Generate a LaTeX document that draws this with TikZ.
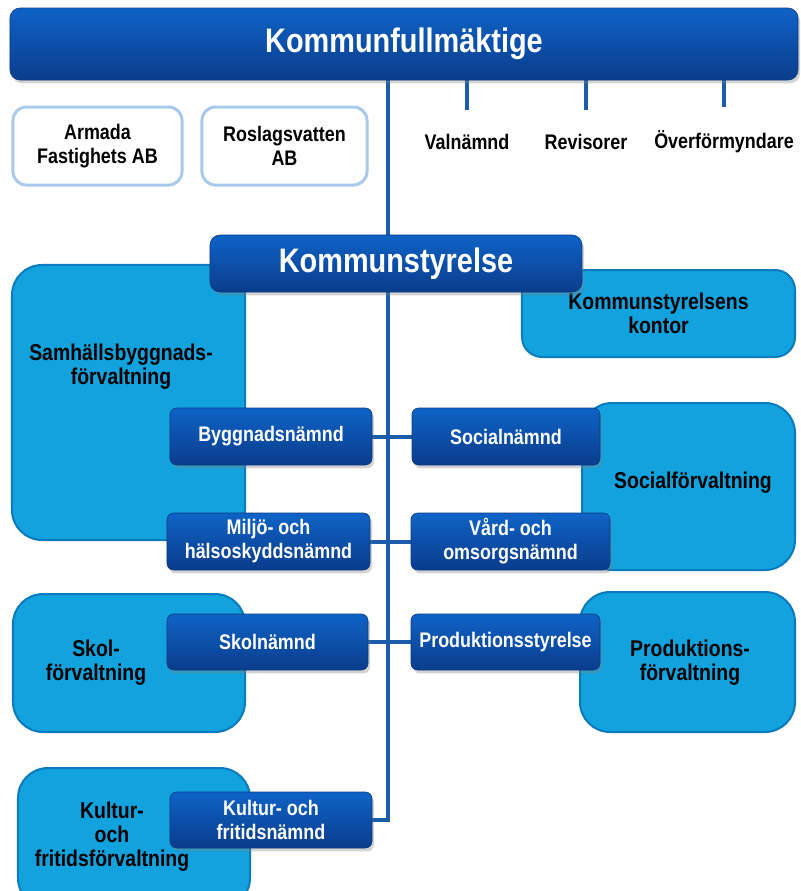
\documentclass[tikz,border=0pt]{standalone}
\usepackage{fontspec}
\setmainfont{Liberation Sans}[FakeStretch=0.85]
\usetikzlibrary{shadows,backgrounds}

\definecolor{ktop}{HTML}{0E63C6}
\definecolor{kbottom}{HTML}{0B3C8C}
\definecolor{kedge}{HTML}{0A3A80}
\definecolor{klight}{HTML}{12A2DE}
\definecolor{kledge}{HTML}{0B7BBE}
\definecolor{kline}{HTML}{1B5DAB}
\definecolor{kpale}{HTML}{A8C8EC}

\tikzset{
    darkbox/.style={rounded corners=0.2cm, top color=ktop, bottom color=kbottom,
        draw=kedge, line width=0.5pt, text=white, align=center,
        drop shadow={shadow xshift=0.06cm, shadow yshift=-0.1cm, opacity=0.35},
        font=\bfseries\fontsize{18}{20.5}\selectfont},
    bigbox/.style={darkbox, rounded corners=0.3cm, font=\bfseries\fontsize{29}{32}\selectfont},
    lightbox/.style={rounded corners=0.9cm, fill=klight, draw=kledge, line width=0.06cm},
    lighttext/.style={align=center, font=\bfseries\fontsize{19.5}{20.5}\selectfont},
    palebox/.style={rounded corners=0.4cm, fill=white, draw=kpale, line width=0.09cm,
        align=center, font=\bfseries\fontsize{18}{21}\selectfont},
    toplabel/.style={font=\bfseries\fontsize{18}{21}\selectfont},
    link/.style={draw=kline, line width=0.12cm}
}

\begin{document}
\begin{tikzpicture}[x=0.03cm, y=-0.03cm]
    \useasboundingbox (0,0) rectangle (800,891);
    \clip (0,0) rectangle (800,891);
    % councils and boards
    \node[bigbox, minimum width=23.64cm, minimum height=2.16cm] (kf) at (404,44) {Kommunfullmäktige};
    \node[toplabel] (val) at (467,142) {Valnämnd};
    \node[toplabel] (rev) at (586,142) {Revisorer};
    \node[toplabel] (ovf) at (724,142) {Överförmyndare};
    \node[palebox, minimum width=5.07cm, minimum height=2.34cm] (arm) at (97.5,146) {Armada\\Fastighets AB};
    \node[palebox, minimum width=4.95cm, minimum height=2.34cm] (ros) at (284.5,146) {Roslagsvatten\\AB};
    % administrations
    \node[lightbox, minimum width=6.99cm, minimum height=8.25cm] (sbf) at (128.5,402.5) {};
    \node[lighttext] (sbft) at (121,367) {Samhällsbyggnads-\\förvaltning};
    \node[lightbox, rounded corners=0.6cm, minimum width=8.19cm, minimum height=2.61cm, lighttext] (ksk) at (658.5,313.5) {Kommunstyrelsens\\kontor};
    \node[lightbox, minimum width=6.39cm, minimum height=5.01cm] (sof) at (688.5,486.5) {};
    \node[lighttext] (soft) at (693,483) {Socialförvaltning};
    \node[lightbox, minimum width=6.96cm, minimum height=4.14cm] (skf) at (129,663) {};
    \node[lighttext] (skft) at (96,663) {Skol-\\förvaltning};
    \node[lightbox, minimum width=6.45cm, minimum height=4.2cm] (prf) at (687.5,662) {};
    \node[lighttext] (prft) at (690,663) {Produktions-\\förvaltning};
    \node[lightbox, minimum width=6.96cm, minimum height=4.2cm] (kuf) at (134,838) {};
    \node[lighttext] (kuft) at (112,837) {Kultur-\\och\\fritidsförvaltning};
    % boards
    \node[bigbox, minimum width=11.16cm, minimum height=1.71cm] (ks) at (396,263.5) {Kommunstyrelse};
    \node[darkbox, minimum width=6.06cm, minimum height=1.71cm] (byg) at (271,436.5) {Byggnadsnämnd};
    \node[darkbox, minimum width=5.64cm, minimum height=1.71cm] (soc) at (506,436.5) {Socialnämnd};
    \node[darkbox, minimum width=6.09cm, minimum height=1.71cm] (mhn) at (268.5,541.5) {Miljö- och\\hälsoskyddsnämnd};
    \node[darkbox, minimum width=5.97cm, minimum height=1.71cm] (von) at (510.5,541.5) {Vård- och\\omsorgsnämnd};
    \node[darkbox, minimum width=6.03cm, minimum height=1.68cm] (skn) at (267.5,642) {Skolnämnd};
    \node[darkbox, minimum width=5.67cm, minimum height=1.68cm] (prs) at (505.5,642) {Produktionsstyrelse};
    \node[darkbox, minimum width=6.06cm, minimum height=1.68cm] (kfn) at (271,820) {Kultur- och\\fritidsnämnd};
    \coordinate (trunk) at (388,80);
    % connectors
    \begin{scope}[on background layer]
        \draw[link] (trunk) |- (kfn.east);
        \draw[link] (kf.south -| val) -- ([yshift=0.6cm]val.north);
        \draw[link] (kf.south -| rev) -- ([yshift=0.6cm]rev.north);
        \draw[link] (kf.south -| ovf) -- ([yshift=0.6cm]ovf.north);
        \draw[link] (byg.east) -- (soc.west);
        \draw[link] (mhn.east) -- (von.west);
        \draw[link] (skn.east) -- (prs.west);
    \end{scope}
\end{tikzpicture}
\end{document}
